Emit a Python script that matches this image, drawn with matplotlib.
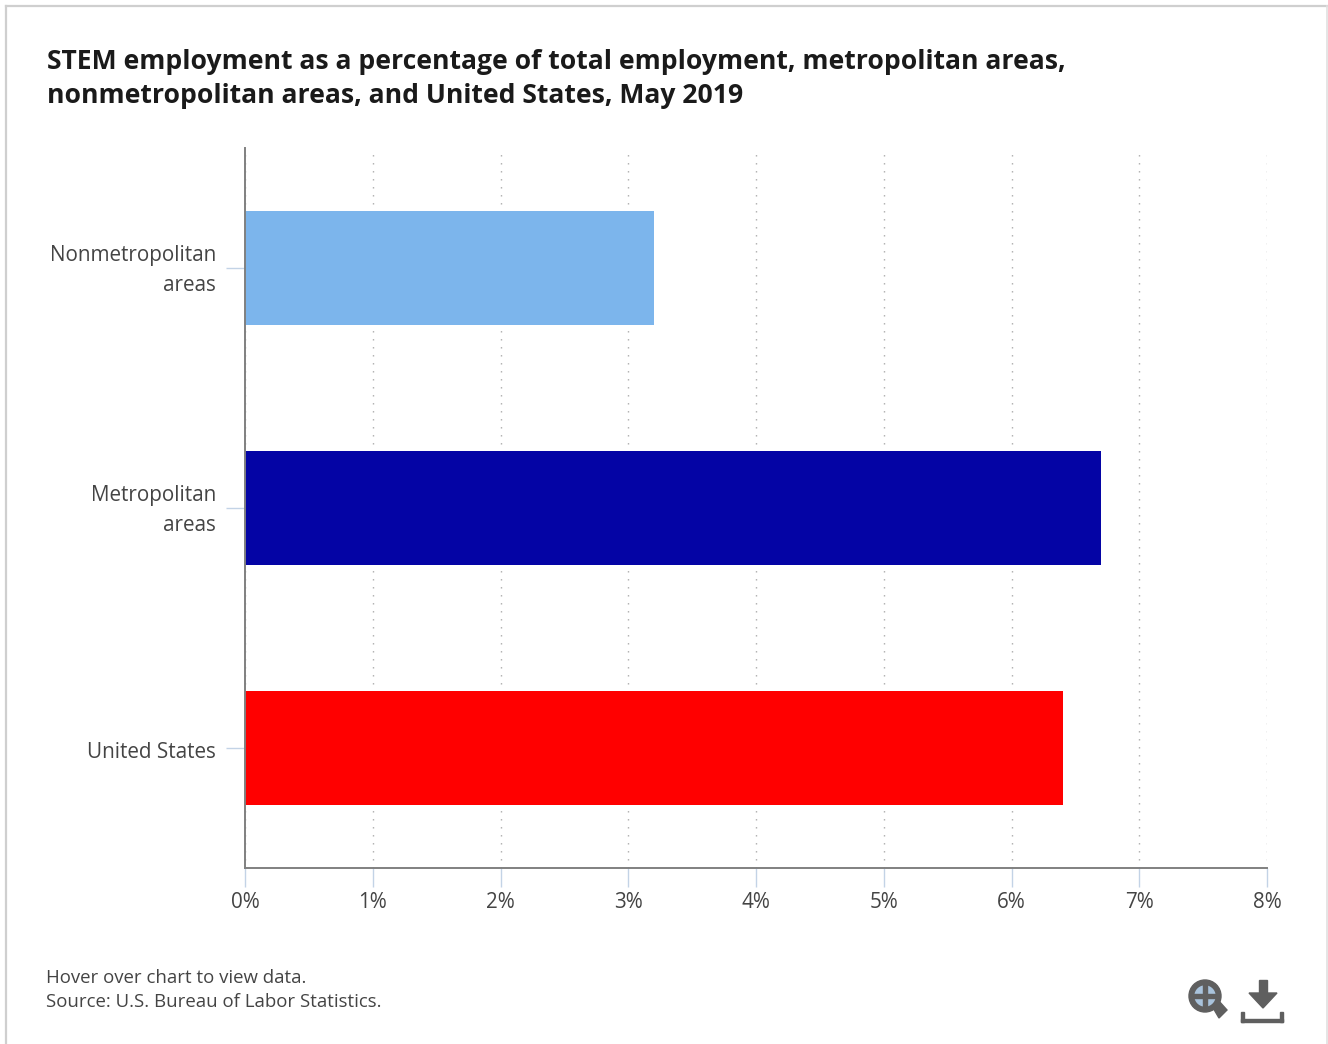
# STEM employment share, horizontal bar chart
import matplotlib
matplotlib.use('Agg')
from matplotlib import pyplot as plt
from matplotlib.lines import Line2D
from matplotlib.patches import Circle, Polygon, Rectangle
from matplotlib.transforms import ScaledTranslation

categories = ['United States', 'Metropolitan\nareas', 'Nonmetropolitan\nareas']
values = [6.4, 6.7, 3.2]
bar_colors = ['#FF0000', '#0404A5', '#7CB5EC']
xticks = [0, 1, 2, 3, 4, 5, 6, 7, 8]

W, H = 1328, 1044
plt.rcParams['font.family'] = ['Open Sans', 'DejaVu Sans']

fig = plt.figure(figsize=(W / 100, H / 100), dpi=100, facecolor='white')

# plot area placed in pixels, measured from the top left
left, right, top, bottom = 245, 1267, 148, 868
ax = fig.add_axes([left / W, 1 - bottom / H, (right - left) / W, (bottom - top) / H])

ax.set_xlim(0, 8)
ax.set_ylim(-0.5, 2.5)
ax.grid(axis='x', color='#ABABAB', linestyle=(0, (1, 4.76)), linewidth=1, zorder=0)
ax.barh(range(len(values)), values, height=0.475, color=bar_colors, zorder=2)

for side in ['top', 'right']:
    ax.spines[side].set_visible(False)
for side in ['left', 'bottom']:
    ax.spines[side].set_color('#808080')
    ax.spines[side].set_linewidth(1.4)

ax.set_xticks(xticks)
ax.set_xticklabels([str(t) + '%' for t in xticks])
ax.set_yticks(range(len(categories)))
ax.set_yticklabels(categories, linespacing=1.56, ha='right')
ax.tick_params(axis='x', length=14, width=1, color='#C3D3E6', labelsize=14.9,
               labelcolor='#444444', pad=3)
ax.tick_params(axis='y', length=14, width=1, color='#C3D3E6', labelsize=14.9,
               labelcolor='#444444', pad=7)

# nudge the category labels: two line ones up, the single line one down
for lab, name in zip(ax.get_yticklabels(), categories):
    dy = 4 if '\n' in name else -1.5
    lab.set_transform(lab.get_transform() + ScaledTranslation(0, dy / 100, fig.dpi_scale_trans))

# everything outside the plot area goes on a pixel overlay
ov = fig.add_axes([0, 0, 1, 1], zorder=5)
ov.set_xlim(0, W)
ov.set_ylim(H, 0)
ov.axis('off')

ov.add_line(Line2D([6, 6], [H, 6], color='#CFCFCF', linewidth=1.6))
ov.add_line(Line2D([6, W], [6, 6], color='#CFCFCF', linewidth=1.6))
ov.add_line(Line2D([1327, 1327], [6, H], color='#E0E0E0', linewidth=1.2))

ov.text(47, 62, 'STEM employment as a percentage of total employment, metropolitan areas,',
        fontsize=19.1, fontweight='bold', color='#1A1A1A', va='center', ha='left')
ov.text(47, 96, 'nonmetropolitan areas, and United States, May 2019',
        fontsize=19.1, fontweight='bold', color='#1A1A1A', va='center', ha='left')

ov.text(46, 978, 'Hover over chart to view data.', fontsize=13.4, color='#444444',
        va='center', ha='left')
ov.text(46, 1002, 'Source: U.S. Bureau of Labor Statistics.', fontsize=13.4, color='#444444',
        va='center', ha='left')

# zoom icon
icon = '#5F5F5F'
ov.add_patch(Polygon([[1212, 1006], [1218, 1000], [1227, 1010], [1219, 1018]], color=icon))
ov.add_patch(Circle((1205, 996), 16, color=icon))
ov.add_patch(Circle((1205, 996), 10, color='#A9C3DC'))
ov.add_patch(Rectangle((1203, 984), 4, 24, color=icon))
ov.add_patch(Rectangle((1193, 994), 24, 4, color=icon))

# download icon
ov.add_patch(Rectangle((1259, 980), 8, 14, color=icon))
ov.add_patch(Polygon([[1249, 993], [1277, 993], [1263, 1008]], color=icon))
ov.add_patch(Rectangle((1241, 1012), 3, 10, color=icon))
ov.add_patch(Rectangle((1280, 1012), 3, 10, color=icon))
ov.add_patch(Rectangle((1241, 1019), 42, 3, color=icon))

fig.savefig('out.png', dpi=100)
